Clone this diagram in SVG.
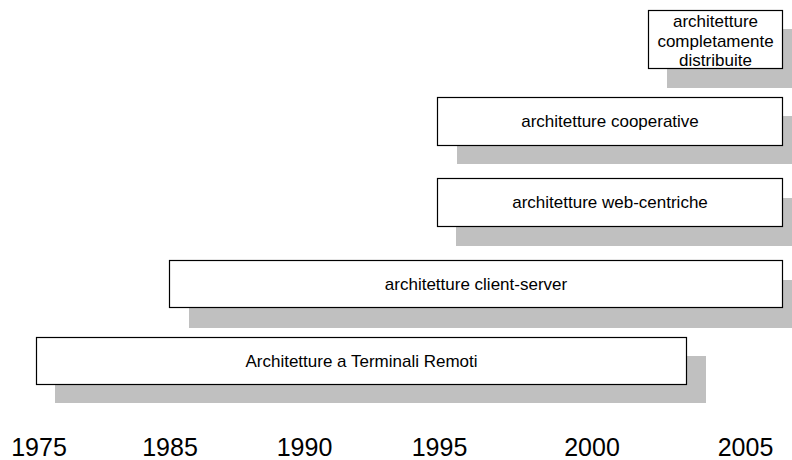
<svg xmlns="http://www.w3.org/2000/svg" width="792" height="460" viewBox="0 0 792 460">
<style>
.shadow{fill:#c0c0c0;stroke:none}
.box{fill:#fff;stroke:#000;stroke-width:1.2}
.lbl{font-family:"Liberation Sans",Arial,sans-serif;font-size:17px;fill:#000;text-anchor:middle}
.year{font-family:"Liberation Sans",Arial,sans-serif;font-size:25px;fill:#000;text-anchor:middle}
</style>
<rect width="792" height="460" fill="#fff"/>
<g id="node-distribuite">
<rect class="shadow" x="667" y="29" width="125" height="59"/>
<rect class="box" x="648.5" y="10.5" width="134" height="58"/>
<text class="lbl" x="715.5" y="27">architetture</text>
<text class="lbl" x="715.5" y="46.5">completamente</text>
<text class="lbl" x="715.5" y="65.5">distribuite</text>
</g>
<g id="node-cooperative">
<rect class="shadow" x="457" y="116" width="335" height="48"/>
<rect class="box" x="437.5" y="97.5" width="345" height="48"/>
<text class="lbl" x="610" y="127">architetture cooperative</text>
</g>
<g id="node-web">
<rect class="shadow" x="456" y="198" width="336" height="48"/>
<rect class="box" x="437.5" y="178.5" width="345" height="48"/>
<text class="lbl" x="610" y="208">architetture web-centriche</text>
</g>
<g id="node-clientserver">
<rect class="shadow" x="189" y="280" width="603" height="48"/>
<rect class="box" x="169.5" y="260.5" width="613" height="47"/>
<text class="lbl" x="476" y="290">architetture client-server</text>
</g>
<g id="node-terminali">
<rect class="shadow" x="55" y="356" width="651" height="47"/>
<rect class="box" x="36.5" y="337.5" width="650" height="47"/>
<text class="lbl" x="361.5" y="367">Architetture a Terminali Remoti</text>
</g>
<g id="connectors"></g>
<g id="axis">
<text class="year" x="39" y="456">1975</text>
<text class="year" x="170" y="456">1985</text>
<text class="year" x="304.5" y="456">1990</text>
<text class="year" x="439.5" y="456">1995</text>
<text class="year" x="592" y="456">2000</text>
<text class="year" x="745.5" y="456">2005</text>
</g>
</svg>
